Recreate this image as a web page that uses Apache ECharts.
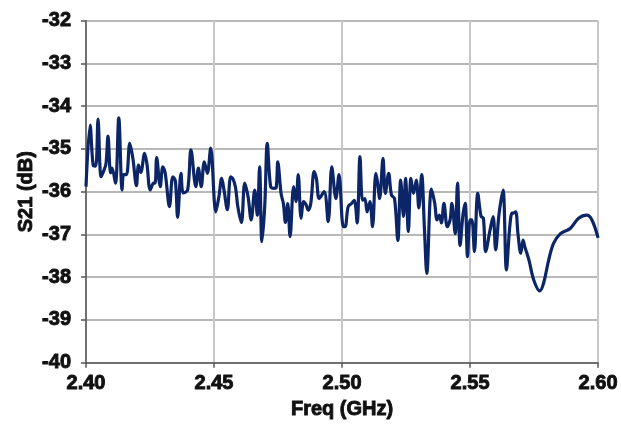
<!DOCTYPE html>
<html>
<head>
<meta charset="utf-8">
<script src="https://cdn.jsdelivr.net/npm/echarts@6/dist/echarts.min.js"></script>
<style>
html,body{margin:0;padding:0;background:#fff;}
#c{width:621px;height:426px;}
</style>
</head>
<body>
<div id="c"></div>
<script>
const freqGHz = [2.4000,2.4016,2.4028,2.4038,2.4047,2.4059,2.4070,2.4078,2.4086,2.4096,2.4102,2.4115,2.4128,2.4141,2.4147,2.4158,2.4171,2.4183,2.4197,2.4205,2.4214,2.4229,2.4238,2.4251,2.4264,2.4270,2.4276,2.4290,2.4300,2.4309,2.4326,2.4339,2.4349,2.4358,2.4371,2.4380,2.4397,2.4410,2.4429,2.4439,2.4450,2.4462,2.4474,2.4487,2.4507,2.4519,2.4530,2.4539,2.4552,2.4565,2.4574,2.4584,2.4593,2.4607,2.4620,2.4633,2.4645,2.4659,2.4669,2.4678,2.4687,2.4698,2.4708,2.4721,2.4734,2.4743,2.4749,2.4762,2.4771,2.4779,2.4788,2.4797,2.4811,2.4820,2.4829,2.4840,2.4850,2.4859,2.4868,2.4878,2.4891,2.4900,2.4911,2.4930,2.4946,2.4960,2.4976,2.4988,2.5005,2.5012,2.5024,2.5038,2.5048,2.5059,2.5070,2.5080,2.5089,2.5098,2.5109,2.5119,2.5132,2.5138,2.5147,2.5160,2.5169,2.5182,2.5193,2.5205,2.5218,2.5229,2.5240,2.5248,2.5259,2.5269,2.5279,2.5290,2.5300,2.5311,2.5322,2.5331,2.5349,2.5362,2.5371,2.5380,2.5388,2.5398,2.5411,2.5422,2.5429,2.5442,2.5451,2.5461,2.5472,2.5481,2.5490,2.5500,2.5507,2.5517,2.5530,2.5543,2.5552,2.5561,2.5578,2.5590,2.5600,2.5612,2.5620,2.5629,2.5642,2.5655,2.5664,2.5669,2.5678,2.5687,2.5698,2.5707,2.5714,2.5730,2.5749,2.5772,2.5787,2.5807,2.5826,2.5853,2.5891,2.5924,2.5956,2.5976,2.6000];
const s21dB = [-35.88,-34.44,-35.38,-35.40,-34.30,-35.65,-35.50,-35.35,-34.70,-35.56,-35.45,-35.80,-34.27,-35.96,-35.60,-35.60,-34.87,-35.22,-35.86,-35.38,-35.55,-35.10,-35.35,-35.96,-35.80,-35.80,-35.20,-35.88,-35.42,-35.55,-36.35,-35.65,-35.75,-36.60,-35.57,-36.03,-35.96,-35.02,-35.88,-35.45,-35.88,-35.30,-35.57,-34.98,-36.47,-36.12,-35.69,-35.96,-36.42,-35.65,-35.70,-35.90,-36.35,-36.72,-35.80,-36.12,-36.66,-35.96,-36.55,-35.42,-37.17,-36.35,-34.87,-35.88,-35.92,-35.90,-35.30,-36.05,-36.28,-36.72,-36.28,-37.05,-35.88,-36.23,-35.60,-36.62,-36.23,-36.30,-36.43,-36.27,-35.53,-35.70,-36.16,-36.00,-36.70,-35.42,-36.16,-35.60,-36.82,-36.82,-36.35,-36.27,-36.20,-36.73,-35.18,-36.20,-36.16,-36.47,-36.23,-36.82,-35.57,-35.75,-36.16,-35.22,-36.04,-35.57,-36.08,-36.16,-37.14,-35.73,-36.58,-35.69,-36.93,-35.69,-36.04,-35.73,-36.38,-35.60,-36.90,-37.91,-35.94,-36.27,-36.66,-36.55,-36.73,-36.27,-36.82,-36.66,-36.27,-36.98,-35.80,-37.26,-36.55,-36.27,-37.52,-36.66,-36.66,-37.40,-36.04,-36.58,-36.62,-37.40,-36.90,-36.58,-37.36,-36.58,-36.23,-35.96,-37.83,-36.82,-36.50,-36.50,-36.47,-36.98,-37.44,-37.13,-37.29,-37.60,-38.07,-38.32,-38.14,-37.60,-37.21,-36.98,-36.86,-36.62,-36.55,-36.66,-37.08];
const xTicks = [2.40, 2.45, 2.50, 2.55, 2.60];
const yTicks = [-40, -39, -38, -37, -36, -35, -34, -33, -32];
const xTitle = 'Freq (GHz)';
const yTitle = 'S21 (dB)';

const FONT = '"Liberation Sans Narrow","Liberation Sans",Arial,sans-serif';
const txt = {fontFamily: FONT, fontWeight: 'bold', fontSize: 20, color: '#111',
  textBorderColor: '#111', textBorderWidth: 0.9};
const chart = echarts.init(document.getElementById('c'), null, {renderer: 'canvas'});
chart.setOption({
  animation: false,
  backgroundColor: '#ffffff',
  grid: {left: 86, right: 19, top: 20.7, bottom: 63.3, containLabel: false},
  xAxis: {
    type: 'value',
    min: xTicks[0], max: xTicks[xTicks.length - 1], interval: 0.05,
    name: xTitle, nameLocation: 'middle', nameGap: 37,
    nameTextStyle: Object.assign({}, txt),
    axisLine: {show: true, lineStyle: {color: '#555', width: 1.5}},
    axisTick: {show: true, length: 5, lineStyle: {color: '#555', width: 1.5}},
    axisLabel: Object.assign({margin: 11, formatter: v => v.toFixed(2)}, txt),
    splitLine: {show: true, lineStyle: {color: '#c8c8c8', width: 2}}
  },
  yAxis: {
    type: 'value',
    min: yTicks[0], max: yTicks[yTicks.length - 1], interval: 1,
    name: yTitle, nameLocation: 'middle', nameGap: 50, nameRotate: 90, nameMoveOverlap: false,
    nameTextStyle: Object.assign({}, txt),
    axisLine: {show: true, lineStyle: {color: '#555', width: 1.5}},
    axisTick: {show: true, length: 5, lineStyle: {color: '#555', width: 1.5}},
    axisLabel: Object.assign({margin: 15}, txt),
    splitLine: {show: true, lineStyle: {color: '#a0a0a0', width: 1.5}}
  },
  series: [{
    type: 'line',
    data: freqGHz.map((f, i) => [f, s21dB[i]]),
    showSymbol: false,
    smooth: 0.35,
    lineStyle: {color: '#0b2566', width: 3.2},
    itemStyle: {color: '#0b2566'}
  }]
});
</script>
</body>
</html>
